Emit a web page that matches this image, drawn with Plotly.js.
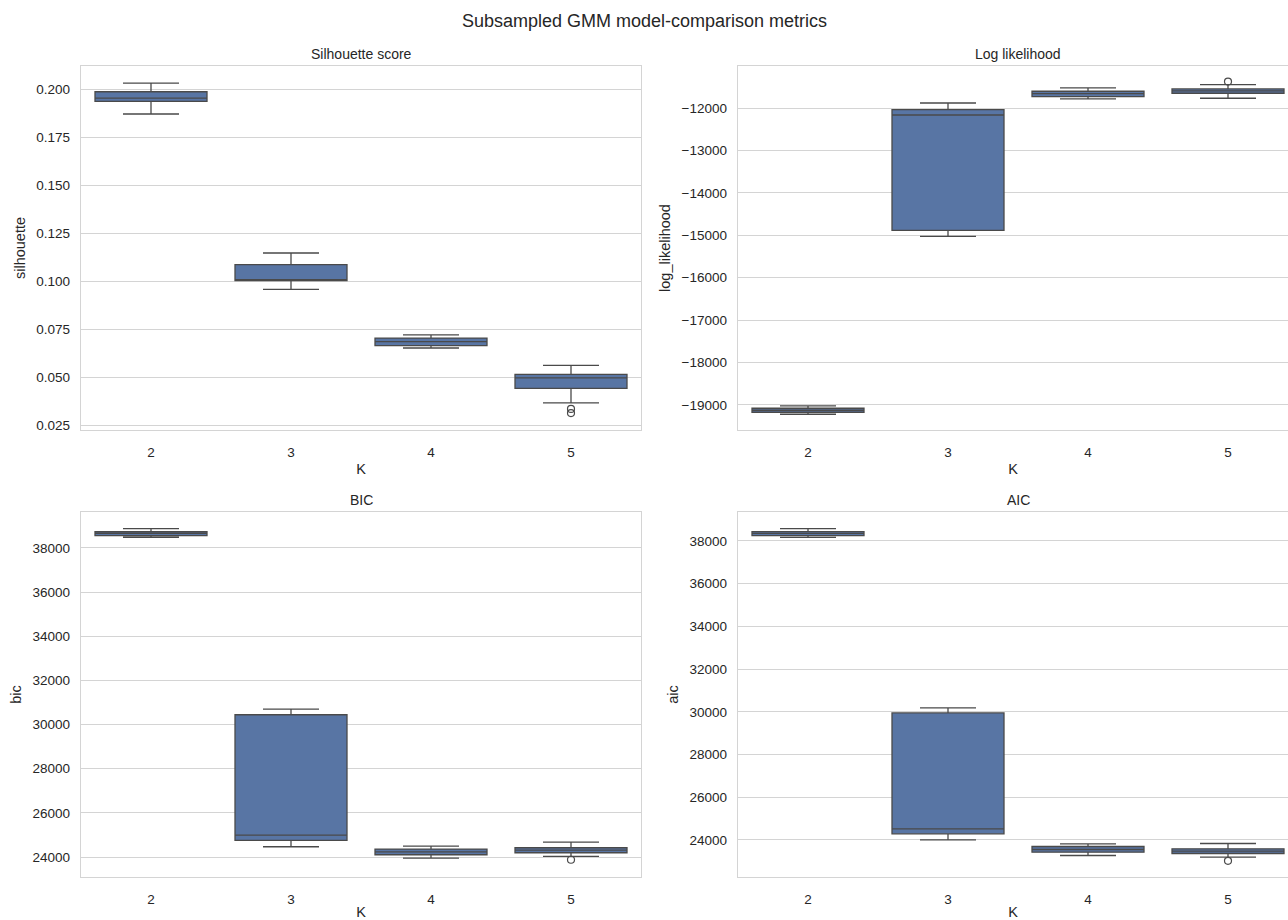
<!DOCTYPE html>
<html>
<head>
<meta charset="utf-8">
<script src="https://cdn.plot.ly/plotly-3.0.1.min.js"></script>
<style>html,body{margin:0;padding:0;background:#fff;}#chart{width:1288px;height:920px;}</style>
</head>
<body>
<div id="chart"></div>
<script>
// Categories (number of components K)
const categories = ['2', '3', '4', '5'];

// Silhouette score box statistics
const silLower  = [0.1870, 0.0957, 0.0651, 0.0365];
const silQ1     = [0.1936, 0.1002, 0.0664, 0.0441];
const silMedian = [0.1953, 0.1005, 0.0684, 0.0495];
const silQ3     = [0.1986, 0.1085, 0.0703, 0.0514];
const silUpper  = [0.2031, 0.1146, 0.0719, 0.0561];
const silOutX   = ['5', '5'];
const silOutY   = [0.0334, 0.0312];

// Log likelihood box statistics
const llLower  = [-19219, -15027, -11787, -11770];
const llQ1     = [-19172, -14885, -11732, -11652];
const llMedian = [-19125, -12165, -11660, -11598];
const llQ3     = [-19077, -12040, -11605, -11551];
const llUpper  = [-19023, -11882, -11527, -11449];
const llOutX   = ['5'];
const llOutY   = [-11376];

// BIC box statistics
const bicLower  = [38483, 24465, 23954, 24030];
const bicQ1     = [38556, 24752, 24103, 24194];
const bicMedian = [38663, 24992, 24232, 24314];
const bicQ3     = [38736, 30443, 24359, 24420];
const bicUpper  = [38872, 30697, 24495, 24676];
const bicOutX   = ['5'];
const bicOutY   = [23877];

// AIC box statistics
const aicLower  = [38173, 24000, 23267, 23190];
const aicQ1     = [38248, 24283, 23424, 23361];
const aicMedian = [38360, 24517, 23549, 23474];
const aicQ3     = [38435, 29948, 23689, 23581];
const aicUpper  = [38576, 30181, 23813, 23829];
const aicOutX   = ['5'];
const aicOutY   = [23019];

const boxFill = '#5875a4';
const lineCol = '#4a4a4a';
const gridCol = '#d4d4d4';
const textCol = '#262626';
const FONT = 'Liberation Sans, Arial, Helvetica, sans-serif';

function box(xa, ya, lo, q1, med, q3, up) {
  return {
    type: 'box', x: categories, q1: q1, median: med, q3: q3,
    lowerfence: lo, upperfence: up, boxpoints: false,
    xaxis: xa, yaxis: ya, width: 0.8, whiskerwidth: 0.5,
    fillcolor: boxFill, line: {color: lineCol, width: 1.3},
    showlegend: false, hoverinfo: 'y'
  };
}
function outl(xa, ya, xs, ys) {
  return {
    type: 'scatter', mode: 'markers', x: xs, y: ys, xaxis: xa, yaxis: ya,
    marker: {symbol: 'circle-open', size: 7, color: lineCol, line: {width: 1.2, color: lineCol}},
    showlegend: false, hoverinfo: 'y'
  };
}

const data = [
  box('x', 'y', silLower, silQ1, silMedian, silQ3, silUpper),
  outl('x', 'y', silOutX, silOutY),
  box('x2', 'y2', llLower, llQ1, llMedian, llQ3, llUpper),
  outl('x2', 'y2', llOutX, llOutY),
  box('x3', 'y3', bicLower, bicQ1, bicMedian, bicQ3, bicUpper),
  outl('x3', 'y3', bicOutX, bicOutY),
  box('x4', 'y4', aicLower, aicQ1, aicMedian, aicQ3, aicUpper),
  outl('x4', 'y4', aicOutX, aicOutY)
];

const W = 1288, H = 920;
const leftDom = [81 / W, 641 / W];
const rightDom = [738 / W, 1];
const topDom = [(H - 430) / H, (H - 66) / H];
const botDom = [(H - 877) / H, (H - 512) / H];

function xax(dom, anchor, range) {
  return {
    domain: dom, anchor: anchor, type: 'category', range: range,
    showgrid: false, zeroline: false, showline: true, mirror: true,
    linecolor: gridCol, linewidth: 1.3, ticks: '', ticklabelstandoff: 9,
    tickfont: {size: 13.5, color: textCol, family: FONT},
    title: {text: 'K', font: {size: 14.5, color: textCol, family: FONT}, standoff: 5},
    fixedrange: true
  };
}
function yax(dom, anchor, range, dtick, fmt, title) {
  return {
    domain: dom, anchor: anchor, range: range, dtick: dtick, tickformat: fmt,
    showgrid: true, gridcolor: gridCol, gridwidth: 1, zeroline: false,
    showline: true, mirror: true, linecolor: gridCol, linewidth: 1.3, ticks: '',
    ticklabelstandoff: 7,
    tickfont: {size: 13.5, color: textCol, family: FONT},
    title: {text: title, font: {size: 14.5, color: textCol, family: FONT}, standoff: 7},
    fixedrange: true
  };
}

const layout = {
  width: W, height: H,
  margin: {l: 0, r: 0, t: 0, b: 0},
  paper_bgcolor: '#ffffff', plot_bgcolor: '#ffffff',
  font: {family: FONT, color: textCol},
  xaxis:  xax(leftDom, 'y', [-0.5, 3.5]),
  yaxis:  yax(topDom, 'x', [0.0224, 0.2120], 0.025, '.3f', 'silhouette'),
  xaxis2: xax(rightDom, 'y2', [-0.5, 3.5 - 10 / 140]),
  yaxis2: yax(topDom, 'x2', [-19590, -11010], 1000, 'd', 'log_likelihood'),
  xaxis3: xax(leftDom, 'y3', [-0.5, 3.5]),
  yaxis3: yax(botDom, 'x3', [23095, 39626], 2000, 'd', 'bic'),
  xaxis4: xax(rightDom, 'y4', [-0.5, 3.5 - 10 / 140]),
  yaxis4: yax(botDom, 'x4', [22260, 39358], 2000, 'd', 'aic'),
  annotations: [
    {text: 'Subsampled GMM model-comparison metrics', x: 0.5, y: (H - 21) / H, xref: 'paper', yref: 'paper',
     xanchor: 'center', yanchor: 'middle', showarrow: false, font: {size: 18, color: textCol, family: FONT}},
    {text: 'Silhouette score', x: (81 + 641) / 2 / W, y: (H - 54) / H, xref: 'paper', yref: 'paper',
     xanchor: 'center', yanchor: 'middle', showarrow: false, font: {size: 14, color: textCol, family: FONT}},
    {text: 'Log likelihood', x: (738 + 1298) / 2 / W, y: (H - 54) / H, xref: 'paper', yref: 'paper',
     xanchor: 'center', yanchor: 'middle', showarrow: false, font: {size: 14, color: textCol, family: FONT}},
    {text: 'BIC', x: (81 + 641) / 2 / W, y: (H - 500) / H, xref: 'paper', yref: 'paper',
     xanchor: 'center', yanchor: 'middle', showarrow: false, font: {size: 14, color: textCol, family: FONT}},
    {text: 'AIC', x: (738 + 1298) / 2 / W, y: (H - 500) / H, xref: 'paper', yref: 'paper',
     xanchor: 'center', yanchor: 'middle', showarrow: false, font: {size: 14, color: textCol, family: FONT}}
  ]
};

Plotly.newPlot('chart', data, layout, {displayModeBar: false, staticPlot: true});
</script>
</body>
</html>
